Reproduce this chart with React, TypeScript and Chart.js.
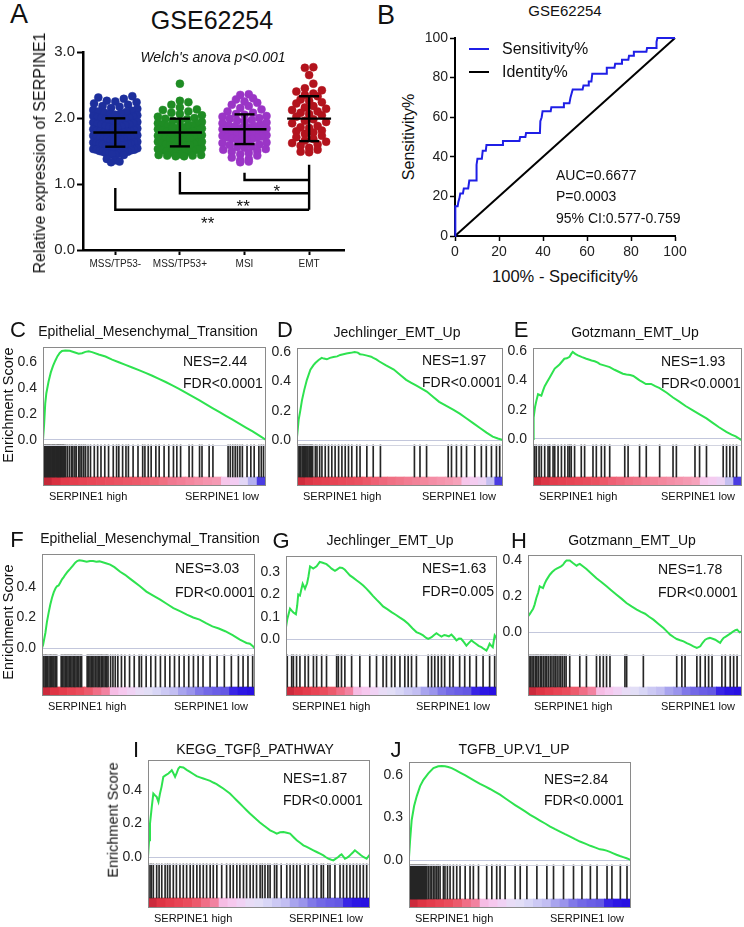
import React, { useEffect, useRef } from 'react';
import { Chart, registerables } from 'chart.js';

Chart.register(...registerables);

const FONT = '"Liberation Sans", Arial, Helvetica, sans-serif';
Chart.defaults.font.family = FONT;
Chart.defaults.color = '#222';

// ================= Panel A data =================
const GROUPS = ['MSS/TP53-', 'MSS/TP53+', 'MSI', 'EMT'];
const GROUP_COLORS = ['#1d2f9d', '#1f8c24', '#9a35c6', '#b3131d'];
const MSS_TP53_NEG = [2.33,2.31,2.29,2.26,2.25,2.24,2.22,2.2,2.18,2.17,2.15,2.14,2.12,2.11,2.1,2.09,2.08,2.07,2.06,2.05,2.04,2.03,2.02,2.01,2.0,2.0,1.99,1.98,1.97,1.96,1.95,1.95,1.94,1.93,1.92,1.91,1.9,1.9,1.89,1.88,1.87,1.86,1.85,1.85,1.84,1.83,1.82,1.81,1.8,1.8,1.79,1.78,1.78,1.77,1.76,1.76,1.75,1.75,1.74,1.73,1.72,1.72,1.71,1.7,1.7,1.69,1.68,1.68,1.67,1.66,1.65,1.65,1.64,1.63,1.63,1.62,1.61,1.61,1.6,1.6,1.59,1.58,1.58,1.57,1.56,1.55,1.55,1.54,1.53,1.52,1.52,1.51,1.5,1.49,1.49,1.48,1.47,1.47,1.46,1.46,1.45,1.45,1.44,1.38,1.36,1.34,1.33];
const MSS_TP53_POS = [2.52,2.26,2.24,2.2,2.16,2.13,2.12,2.1,2.08,2.06,2.04,2.02,2.0,1.99,1.98,1.96,1.95,1.94,1.92,1.91,1.9,1.89,1.88,1.87,1.86,1.85,1.84,1.83,1.82,1.81,1.8,1.79,1.78,1.77,1.76,1.75,1.74,1.73,1.72,1.71,1.7,1.69,1.68,1.67,1.66,1.65,1.64,1.63,1.62,1.61,1.6,1.59,1.58,1.57,1.56,1.55,1.54,1.53,1.52,1.51,1.5,1.5,1.49,1.48,1.47,1.46,1.45,1.44,1.44,1.43,1.43,1.42,1.42,1.77,1.73,1.69,1.64,1.59,1.86];
const MSI_VALS = [2.36,2.35,2.3,2.28,2.25,2.23,2.2,2.18,2.15,2.13,2.1,2.08,2.06,2.05,2.03,2.02,2.0,1.99,1.97,1.96,1.95,1.93,1.92,1.9,1.89,1.88,1.87,1.86,1.85,1.84,1.83,1.82,1.81,1.8,1.79,1.78,1.77,1.76,1.75,1.74,1.73,1.72,1.71,1.7,1.69,1.68,1.67,1.66,1.65,1.63,1.62,1.6,1.59,1.57,1.56,1.55,1.53,1.52,1.5,1.49,1.47,1.45,1.43,1.4,1.38,1.36,1.34,1.33];
const EMT_VALS = [2.77,2.76,2.65,2.52,2.45,2.42,2.4,2.37,2.35,2.33,2.28,2.26,2.24,2.22,2.18,2.16,2.14,2.12,2.1,2.08,2.06,2.04,2.02,1.98,1.96,1.94,1.92,1.88,1.86,1.85,1.81,1.8,1.78,1.76,1.73,1.71,1.68,1.66,1.64,1.62,1.6,1.58,1.55,1.52,1.49,1.48];
const GROUP_MEANS = [1.78, 1.78, 1.83, 1.99];
const GROUP_SD = [0.215, 0.21, 0.225, 0.34];
const A_Y_TICKS = [0, 1, 2, 3];
const SIG_FROM = [2, 1, 0];
const SIG_TO = 3;
const SIG_FROM_TOP = [1.17, 1.18, 0.94];
const SIG_BAR = [1.06, 0.86, 0.61];
const SIG_TO_TOP = 1.29;
const SIG_LABELS = ['*', '**', '**'];
const SIG_LABEL_X = [2.5, 1.98, 1.43];
const SIG_LABEL_Y = [0.955, 0.73, 0.47];

// ================= Panel B data =================
const ROC_FPR = [0,0,0.3,1.2,1.5,2,2.4,3.6,4,6,6.5,9.7,9.8,10.2,12.2,12.6,14,14.3,21.5,21.8,29.3,29.6,32,32.3,38.6,38.8,39.4,39.8,43.5,43.8,49.2,49.5,52,52.5,53,53.5,58,58.4,60.5,60.8,62,62.4,68.7,69,72.5,72.8,75.6,75.9,78.8,79.1,81,81.3,87,87.3,91.4,91.6,92,100];
const ROC_TPR = [0,8,15,15,17,19,21.5,21.5,24,24,28,28,36,39,39,43,43,46,46,48,48,50,50,52,52,58,60,63,63,65,65,67,67,70,72,74,74,76,76,78,78,82,82,85,85,87,87,89,89,91,91,93,93,95,95,98,100,100];
const IDENTITY = [0, 100];
const B_TICKS = [0, 20, 40, 60, 80, 100];

// ================= GSEA data (x = % of ranked list) =================
const ES_C = [[0,0],[0.5,0.12],[1,0.28],[1.5,0.36],[2.5,0.45],[3.5,0.52],[4.5,0.57],[5.5,0.61],[6.5,0.645],[7.5,0.67],[8.5,0.685],[10,0.688],[12,0.686],[14,0.675],[16,0.664],[17.5,0.668],[19,0.678],[20.5,0.682],[22,0.676],[25,0.658],[28,0.642],[31,0.618],[34,0.598],[37,0.578],[40,0.558],[43,0.538],[46,0.516],[49,0.494],[52,0.47],[55,0.446],[58,0.42],[61,0.394],[64,0.365],[67,0.336],[70,0.306],[73,0.276],[76,0.246],[79,0.216],[82,0.186],[85,0.156],[88,0.126],[91,0.096],[94,0.066],[97,0.034],[100,0]];
const ES_D = [[0,0.02],[0.8,0.137],[1.6,0.2],[2.4,0.27],[3.5,0.34],[4.8,0.41],[6.5,0.48],[8,0.51],[8.9,0.525],[10.5,0.545],[12,0.56],[13,0.555],[14.5,0.55],[16,0.56],[17.7,0.566],[19.5,0.57],[21,0.58],[22.5,0.585],[24,0.59],[26,0.594],[28,0.6],[29.5,0.596],[30.6,0.585],[32,0.582],[34,0.575],[36,0.568],[37,0.56],[38.5,0.55],[40,0.535],[43,0.51],[47,0.48],[50,0.445],[53,0.41],[55.5,0.39],[58,0.37],[60.5,0.35],[63,0.33],[66,0.295],[69,0.26],[72.5,0.232],[76,0.205],[79,0.18],[82,0.15],[85.5,0.115],[89,0.08],[92,0.05],[95,0.023],[97.5,0.01],[100,0]];
const ES_E = [[0,0],[0.3,0.145],[1,0.22],[1.6,0.26],[2.4,0.305],[3.2,0.3],[4,0.295],[4.8,0.33],[5.6,0.36],[6.8,0.39],[8,0.42],[9.2,0.45],[10.4,0.48],[11.6,0.495],[12.8,0.51],[14,0.53],[15,0.547],[16.2,0.55],[17.5,0.56],[18.3,0.58],[19,0.593],[20.2,0.58],[21.5,0.57],[23.5,0.558],[25.5,0.547],[27,0.54],[28,0.535],[29.5,0.53],[31,0.52],[32,0.51],[34.4,0.5],[36.7,0.49],[39,0.472],[41.5,0.455],[43,0.445],[44.7,0.44],[46.5,0.436],[48,0.43],[49.5,0.415],[51,0.4],[52.5,0.388],[54,0.375],[56.5,0.375],[58.5,0.36],[60.6,0.347],[64,0.315],[67,0.283],[70,0.255],[73,0.225],[76.5,0.195],[79.7,0.168],[83,0.14],[86,0.11],[89,0.08],[92.5,0.048],[95,0.03],[97,0.018],[100,-0.01]];
const ES_F = [[0,0],[0.5,0.02],[1.6,0.1],[2.3,0.17],[3.1,0.23],[3.9,0.285],[4.7,0.33],[5.5,0.365],[6.3,0.39],[7,0.405],[7.8,0.41],[8.6,0.43],[9.4,0.45],[10.2,0.465],[10.9,0.48],[12,0.5],[13.3,0.52],[14.5,0.54],[15.6,0.56],[16.5,0.57],[17.5,0.575],[19,0.572],[21,0.565],[22.5,0.57],[24,0.57],[25.5,0.566],[27,0.568],[28.5,0.562],[30,0.556],[32,0.547],[34,0.53],[36.7,0.5],[39,0.48],[41,0.458],[43,0.437],[46,0.405],[49,0.37],[52,0.345],[55.5,0.317],[58.5,0.29],[61.7,0.262],[65,0.24],[68,0.219],[71,0.2],[74,0.186],[77,0.163],[80,0.142],[83,0.128],[86,0.11],[89.5,0.085],[92.9,0.055],[95,0.04],[96,0.033],[97.6,0.028],[99,0.012],[100,-0.006]];
const ES_G = [[0,0.055],[0.6,0.09],[1.9,0.137],[2.7,0.128],[3.5,0.12],[4.7,0.112],[5.3,0.15],[5.8,0.2],[6.6,0.195],[7.2,0.22],[7.9,0.248],[9,0.226],[10,0.25],[10.6,0.278],[11.4,0.325],[12.2,0.32],[12.9,0.315],[14.5,0.325],[16,0.345],[17,0.342],[17.7,0.34],[19.2,0.335],[20.5,0.325],[21.6,0.315],[23.2,0.305],[24.3,0.312],[25.5,0.32],[26.7,0.318],[27.9,0.31],[29,0.298],[30.3,0.285],[31.8,0.275],[33.4,0.263],[35,0.252],[36.6,0.24],[38.1,0.226],[39.7,0.21],[41.3,0.193],[42.9,0.177],[44.5,0.162],[46,0.147],[48,0.135],[50,0.122],[52,0.11],[54,0.097],[56,0.085],[57.9,0.07],[59.9,0.05],[61.8,0.033],[63.5,0.026],[65,0.018],[66.3,0.008],[67.4,0.003],[69,0.01],[70.2,0.02],[71.3,0.028],[72.5,0.02],[73.7,0.013],[75,0.02],[76,0.018],[77.2,0.014],[78.4,0.022],[79.6,0.01],[80.8,-0.004],[82,0.004],[83,0.003],[84.3,-0.012],[85.5,-0.027],[86.7,-0.015],[87.9,-0.004],[89,-0.012],[90,-0.019],[91.3,-0.028],[92.6,-0.034],[93.8,-0.042],[95,-0.049],[95.8,-0.035],[96.5,-0.019],[97.3,-0.028],[98,-0.034],[98.9,0.018],[100,0.003]];
const ES_H = [[0,0.087],[0.8,0.1],[1.6,0.115],[2.4,0.13],[3.1,0.153],[3.9,0.19],[4.7,0.218],[5.5,0.255],[6.2,0.25],[7,0.245],[7.8,0.27],[8.6,0.29],[9.4,0.305],[10.2,0.32],[11.3,0.335],[12.5,0.348],[13.6,0.355],[14.8,0.363],[15.6,0.368],[16.4,0.376],[17.2,0.39],[18,0.4],[19.5,0.4],[21,0.385],[22.7,0.37],[23.4,0.376],[24.2,0.38],[25.8,0.366],[27.3,0.352],[29.7,0.326],[32,0.3],[34.4,0.278],[36.7,0.255],[39,0.232],[41.4,0.208],[43.8,0.185],[46,0.162],[48.4,0.143],[50.8,0.125],[52.8,0.112],[54.7,0.102],[56.6,0.085],[58.6,0.069],[61,0.045],[63.3,0.022],[65,0.002],[66.4,-0.015],[68,-0.028],[69.5,-0.039],[71.1,-0.046],[72.7,-0.052],[74.2,-0.062],[75.8,-0.071],[77.3,-0.08],[78.9,-0.089],[79.7,-0.085],[80.5,-0.08],[81.6,-0.06],[82.8,-0.043],[84,-0.036],[85,-0.033],[86.3,-0.038],[87.5,-0.043],[88.7,-0.052],[89.8,-0.061],[90.6,-0.045],[91.4,-0.033],[92.6,-0.024],[93.8,-0.015],[95,-0.005],[96,0.004],[96.9,0.01],[97.7,0.013],[98.9,-0.002],[100,0.004]];
const ES_I = [[0,0],[0.5,0.1],[0.9,0.2],[1.7,0.3],[2.4,0.38],[3.1,0.37],[3.9,0.36],[4.7,0.33],[5.4,0.38],[6.1,0.42],[6.9,0.48],[8,0.49],[9.2,0.5],[10,0.51],[10.7,0.52],[11.5,0.5],[12.2,0.48],[13,0.505],[13.7,0.53],[14.4,0.54],[15.2,0.538],[15.9,0.536],[17.4,0.522],[18.9,0.51],[20.4,0.497],[21.9,0.484],[23.4,0.477],[24.9,0.47],[26.4,0.463],[28,0.456],[29.4,0.446],[30.9,0.436],[32.4,0.423],[33.9,0.41],[35.4,0.395],[36.9,0.38],[38.4,0.36],[39.9,0.34],[41.4,0.32],[42.9,0.3],[44.4,0.28],[45.9,0.26],[47.4,0.242],[48.9,0.224],[50.4,0.207],[52,0.19],[53.5,0.175],[55,0.16],[56.5,0.15],[58,0.14],[59.5,0.148],[61,0.15],[62.5,0.145],[64,0.14],[65.5,0.12],[67,0.1],[68.5,0.085],[70,0.07],[71.5,0.06],[73,0.05],[74.5,0.04],[76,0.03],[77.5,0.02],[79,0.01],[80,0],[81.2,-0.01],[82.3,-0.015],[83.5,-0.02],[84.6,-0.01],[85.7,0],[86.5,0.01],[87.2,0.016],[88,0.003],[88.7,-0.01],[89.5,-0.005],[90.2,0],[91,0.01],[91.7,0.02],[92.5,0.03],[93.2,0.04],[94,0.032],[94.7,0.024],[95.8,0.012],[97,0],[97.8,-0.005],[98.5,-0.01],[99.2,0.003],[100,0.016]];
const ES_J = [[0,0.02],[0.5,0.14],[1.2,0.28],[2.3,0.38],[3.5,0.45],[5,0.52],[6.5,0.565],[8.7,0.61],[11,0.647],[13.2,0.66],[14.7,0.662],[16.2,0.66],[17.7,0.655],[19.2,0.647],[21,0.633],[23,0.616],[25.2,0.597],[27.5,0.576],[29.8,0.556],[32,0.536],[34.3,0.518],[36.5,0.5],[38.8,0.48],[41,0.46],[43.3,0.435],[45.6,0.41],[47.8,0.387],[50,0.365],[52.3,0.342],[54.6,0.318],[56.8,0.298],[59,0.278],[61.3,0.257],[63.6,0.235],[65.8,0.217],[68,0.2],[70.3,0.182],[72.6,0.165],[74.8,0.147],[77,0.13],[79.4,0.115],[81.7,0.1],[84,0.087],[86,0.075],[87.5,0.072],[89,0.066],[90.5,0.057],[92,0.047],[93.5,0.037],[95,0.028],[96.5,0.02],[98,0.012],[99,0.006],[100,0]];

const HITS_C = [0.3,0.7,1.1,1.4,1.8,2.1,2.5,2.9,3.2,3.6,4.0,4.3,4.7,5.1,5.4,5.8,6.2,6.6,6.9,7.3,7.7,8.0,8.4,8.8,9.2,9.6,10.2,11,11.9,12.8,13.4,14.3,14.9,16,16.6,17.4,18.3,19.1,20.2,21.3,23,24.5,26,27.7,29.4,31.5,33,34,35.7,37.2,38.3,40.4,42.6,44.7,45.7,47.2,48.5,50.6,52.1,54.3,56.4,58.5,60,61.7,65.5,67,70.2,71.3,74.5,76.2,83,84,85.1,86.2,87.2,88.3,89.4,91.5,93.2,94.7,96.8,97.9,98.9];
const HITS_D = [0.5,1.2,1.8,2.5,3.1,3.6,4.2,4.8,5.3,5.9,6.5,7.0,7.6,8.9,9.7,11,12.1,13.7,15.3,16.9,18.5,20.2,21.8,23.4,25,26.6,29,30.6,33.9,37,40.5,57,59.7,62.9,73.4,75,77.4,79.8,82.3,86.3,89.5,91.9,94.4,96.8,98.4];
const HITS_E = [0.8,1.6,2.9,4,5.6,7.2,8,9.6,10.4,12,13.6,15.2,16.7,17.5,18.3,19.9,23.1,24.7,28.7,30.3,32.7,34.3,36.7,43.9,45.5,51,54.2,60.6,67,68.6,77.5,79.7,83,91,92.6,94.2,95.8,97.4];
const HITS_F = [0.4,0.9,1.5,2.0,2.6,3.3,3.9,4.4,5.1,5.6,6.2,6.9,9.0,9.6,10.3,10.9,11.6,12.2,12.8,13.5,14.1,14.8,15.4,16.0,16.7,17.3,18.0,18.6,21.2,21.8,22.5,23.1,23.8,24.4,25.1,25.8,26.4,27.1,27.8,28.4,29.1,29.8,30.4,31.0,32.2,33.3,34.4,35.6,37.3,38.9,41.1,43.3,45.6,46.7,48.9,51.1,53.3,55.6,57.8,60,62.2,64.4,66.7,68.9,71.1,73.3,75.6,78.9,82.2,85.6,88.9,92.2,94.4,96.7,98.9];
const HITS_G = [0.6,2.7,3.5,5.0,6.6,9.0,10.6,13.0,14.5,16.9,19.2,24.0,24.8,26.3,27.9,31.1,35.0,39.7,42.9,46.0,47.6,50.0,51.6,54.0,56.3,57.9,59.5,61.8,67.4,69.0,70.5,72.1,73.7,75.2,77.6,79.2,82.3,84.7,87.1,90.2,93.4,96.5,98.9];
const HITS_H = [0.5,1.2,1.9,2.6,3.4,4.1,4.8,5.7,6.4,7.2,8.0,8.7,9.5,10.4,11.2,12.1,12.8,13.6,14.5,15.3,16.1,17.0,17.8,19.5,24.2,27.3,32,33.6,35.2,36.7,38.3,45.3,46.1,53.9,69.5,71.9,73.4,78.9,80.5,82.8,84.4,86,90.6,92.2,94.5,96.1,97.7];
const HITS_I = [0.9,1.5,2.4,3.9,5.0,6.2,7.7,8.8,9.9,11.4,12.8,14.4,15.9,17.4,19,20.4,22,23.4,24.9,26.4,28,29.4,31,33.2,35.4,37,38.4,40,41.4,43,44.4,46,47.4,48.9,50.5,51.5,52.7,54,55,57,58,60,62.5,64,65.5,67,68.5,70.7,72.2,74.5,76,78,79,81,82,84.2,86.5,88,89.5,91,92.5,94,95.5,97,98.5];
const HITS_J = [0.3,0.8,1.2,1.7,2.1,2.6,3.0,3.5,3.9,4.4,4.8,5.3,5.7,6.2,6.6,7.1,7.5,8.0,8.7,9.5,10.2,11,11.7,12.5,13.2,14,15.5,16.2,17.3,18.5,20,21.5,23,25.3,27.5,29,31.3,35,37.3,39.5,41,43.3,47.8,50.1,53.1,57.6,62.1,65.1,69.6,74.1,77.9,81.7,84.7,89.2,91.4,95.2,98.2];

// ranked-list metric heat strip (left = SERPINE1 high, right = low)
const GRAD_C = ['#c42838','#d83040','#e23a4a','#e43e4e','#e64252','#e84656','#e84a5a','#ea4e5e','#ea5262','#ec5666','#ec5a6a','#ee5e70','#ee6878','#f07082','#f07890','#f27e96','#f4869e','#f48ea6','#f594ae','#f59ab4','#f6c6ea','#f3ccf2','#e2d6f6','#b4b0f0','#4a3ce2'];
const GRAD_D = ['#d02c3c','#dc3646','#e23c4c','#e44050','#e64454','#e84858','#e84c5c','#ea5060','#ec5868','#ee6074','#ee687c','#f07084','#f0768a','#f27c92','#f28298','#f4889e','#f48ea6','#f594ac','#f59ab2','#f6a2ba','#f6c6ea','#f4ccf0','#ecd2f4','#c4bff0','#4a3ce2'];
const GRAD_F = ['#cc2a3c','#de3444','#e43c4c','#e84454','#ea4c5c','#ec5a6c','#f06e86','#f282a0','#f6bce4','#f6c8ee','#f0d2f4','#e8dcf6','#e2def6','#d8d6f6','#ccc9f4','#c2bef2','#a8a4ee','#9a94ec','#8078e8','#7268e6','#6a5ee6','#6458e4','#3824e6','#2c16e4','#2810e2'];

const GSEA_LETTERS = ['C','D','E','F','G','H','I','J'];
const GSEA_TITLES = ['Epithelial_Mesenchymal_Transition','Jechlinger_EMT_Up','Gotzmann_EMT_Up','Epithelial_Mesenchymal_Transition','Jechlinger_EMT_Up','Gotzmann_EMT_Up','KEGG_TGFβ_PATHWAY','TGFB_UP.V1_UP'];
const GSEA_NES = ['NES=2.44','NES=1.97','NES=1.93','NES=3.03','NES=1.63','NES=1.78','NES=1.87','NES=2.84'];
const GSEA_FDR = ['FDR<0.0001','FDR<0.0001','FDR<0.0001','FDR<0.0001','FDR=0.005','FDR<0.0001','FDR<0.0001','FDR<0.0001'];
const GSEA_TICKS = [[0,0.2,0.4,0.6],[0,0.2,0.4,0.6],[0,0.2,0.4,0.6],[0,0.2,0.4],[0,0.1,0.2,0.3],[0,0.2,0.4],[0,0.2,0.4],[0,0.3,0.6]];
const GSEA_ES = [ES_C, ES_D, ES_E, ES_F, ES_G, ES_H, ES_I, ES_J];
const GSEA_HITS = [HITS_C, HITS_D, HITS_E, HITS_F, HITS_G, HITS_H, HITS_I, HITS_J];
const GSEA_GRAD = [GRAD_C, GRAD_D, GRAD_D, GRAD_F, GRAD_F, GRAD_F, GRAD_F, GRAD_F];

// ================= Layout (pixels) =================
const GSEA_GEO = [
  { left: 43, right: 266, top: 347, zero: 440, sep: 445, hitBot: 477, bottom: 486, unit: 130 },
  { left: 297, right: 503, top: 348, zero: 440, sep: 445, hitBot: 477, bottom: 486, unit: 146.7 },
  { left: 533, right: 742, top: 348, zero: 439, sep: 445, hitBot: 477, bottom: 486, unit: 146.7 },
  { left: 42, right: 255, top: 554, zero: 648, sep: 655, hitBot: 687, bottom: 696, unit: 152.5 },
  { left: 286, right: 497, top: 556, zero: 639.5, sep: 655, hitBot: 687, bottom: 696, unit: 225 },
  { left: 528, right: 742, top: 555, zero: 632, sep: 655, hitBot: 687, bottom: 696, unit: 179 },
  { left: 148, right: 370, top: 760, zero: 857, sep: 864, hitBot: 898, bottom: 908, unit: 167 },
  { left: 409, right: 631, top: 762, zero: 860, sep: 865, hitBot: 899, bottom: 908, unit: 142 },
];
const GSEA_TXT = [
  { letter: [18, 330], title: [148, 331], nes: [183, 361], fdr: [183, 383] },
  { letter: [285, 330], title: [397, 332], nes: [422, 360], fdr: [422, 382] },
  { letter: [521, 330], title: [635, 332], nes: [661, 361], fdr: [661, 383] },
  { letter: [17, 540], title: [150, 538], nes: [175, 568], fdr: [175, 592] },
  { letter: [281, 541], title: [390, 540], nes: [422, 568], fdr: [422, 591] },
  { letter: [519, 541], title: [632, 540], nes: [658, 569], fdr: [658, 592] },
  { letter: [136, 750], title: [255, 749], nes: [283, 778], fdr: [283, 800] },
  { letter: [396, 750], title: [514, 749], nes: [544, 779], fdr: [544, 800] },
];
const ES_LABEL_POS = [[8, 405], [8, 622], [113, 820]];

type Frame = { left: number; top: number; width: number; height: number };

function ChartBox({ frame, make }: { frame: Frame; make: () => any }) {
  const ref = useRef<HTMLCanvasElement | null>(null);
  useEffect(() => {
    const chart = new Chart(ref.current as HTMLCanvasElement, make());
    return () => chart.destroy();
  }, []);
  return (
    <canvas
      ref={ref}
      width={frame.width}
      height={frame.height}
      style={{ position: 'absolute', left: frame.left, top: frame.top, width: frame.width, height: frame.height }}
    />
  );
}

function T({ x, y, s, a = 'm', r = false, it = false, c = '#111', children }: any) {
  const tx = a === 's' ? '0' : a === 'e' ? '-100%' : '-50%';
  return (
    <div
      style={{
        position: 'absolute', left: x, top: y,
        transform: `translate(${tx},-50%)${r ? ' rotate(-90deg)' : ''}`,
        fontSize: s, lineHeight: 1, whiteSpace: 'nowrap', fontStyle: it ? 'italic' : 'normal',
        color: c, fontFamily: FONT,
      }}
    >
      {children}
    </div>
  );
}

// ---------- Panel A ----------
const A_AREA = { left: 83, top: 52, right: 344, bottom: 250 };
const A_XMIN = -0.5;
const A_XMAX = 3.54;

function swarmOffsets(values: number[], rowH: number, stepPx: number, maxHalfPx: number, catPx: number) {
  const rows = new Map<number, number[]>();
  values.forEach((v, i) => {
    const k = Math.round(v / rowH + 1e-9);
    if (!rows.has(k)) rows.set(k, []);
    (rows.get(k) as number[]).push(i);
  });
  const off = new Array(values.length).fill(0);
  rows.forEach((idx) => {
    const n = idx.length;
    const step = n > 1 ? Math.min(stepPx, (2 * maxHalfPx) / (n - 1)) : 0;
    const slots: number[] = [];
    for (let j = 0; j < n; j++) slots.push((j - (n - 1) / 2) * step);
    slots.sort((p, q) => Math.abs(p) - Math.abs(q) || p - q);
    const order = idx.slice().sort((p, q) => values[p] - values[q]);
    order.forEach((vi, j) => { off[vi] = slots[j] / catPx; });
  });
  return off;
}

function makeA() {
  const AXW = 45, AXH = 30;
  const catPx = (A_AREA.right - A_AREA.left) / (A_XMAX - A_XMIN);
  const all = [MSS_TP53_NEG, MSS_TP53_POS, MSI_VALS, EMT_VALS];
  const datasets: any[] = [];
  const seg = (pts: number[][]) => ({
    type: 'line', data: pts.map(([x, y]) => ({ x, y })), borderColor: '#000', borderWidth: 2.4,
    pointRadius: 0, fill: false, order: 0, clip: false,
  });
  GROUP_MEANS.forEach((m, g) => {
    const sd = GROUP_SD[g];
    datasets.push(seg([[g - 0.34, m], [g + 0.34, m]]));
    datasets.push(seg([[g, m - sd], [g, m + sd]]));
    datasets.push(seg([[g - 0.155, m + sd], [g + 0.155, m + sd]]));
    datasets.push(seg([[g - 0.155, m - sd], [g + 0.155, m - sd]]));
  });
  SIG_FROM.forEach((f, i) => {
    datasets.push(seg([[f, SIG_FROM_TOP[i]], [f, SIG_BAR[i]], [SIG_TO, SIG_BAR[i]]]));
  });
  datasets.push(seg([[SIG_TO, SIG_TO_TOP], [SIG_TO, Math.min(...SIG_BAR)]]));
  all.forEach((vals, g) => {
    const off = swarmOffsets(vals, 0.1, 8.5, 22, catPx);
    datasets.push({
      type: 'scatter',
      data: vals.map((v, i) => ({ x: g + off[i], y: v })),
      pointRadius: 4, pointHoverRadius: 4,
      pointBackgroundColor: GROUP_COLORS[g], pointBorderColor: GROUP_COLORS[g], pointBorderWidth: 0.5,
      order: 1,
    });
  });
  const stars = {
    id: 'stars',
    afterDatasetsDraw(chart: any) {
      const { ctx, scales } = chart;
      ctx.save();
      ctx.fillStyle = '#111';
      ctx.font = `17px ${FONT}`;
      ctx.textAlign = 'center';
      ctx.textBaseline = 'alphabetic';
      SIG_LABELS.forEach((t, i) => {
        ctx.fillText(t, scales.x.getPixelForValue(SIG_LABEL_X[i]), scales.y.getPixelForValue(SIG_LABEL_Y[i]) + 0.575 * 17);
      });
      ctx.restore();
    },
  };
  const padT = 16, padR = 20, padB = 4;
  const frame = {
    left: A_AREA.left - AXW, top: A_AREA.top - padT,
    width: A_AREA.right - A_AREA.left + AXW + padR,
    height: A_AREA.bottom - A_AREA.top + padT + AXH + padB,
  };
  const make = () => ({
    type: 'line',
    data: { datasets },
    options: {
      responsive: false, animation: false, events: [], devicePixelRatio: 1,
      layout: { padding: { left: 0, top: padT, right: padR, bottom: padB } },
      plugins: { legend: { display: false }, tooltip: { enabled: false } },
      scales: {
        x: {
          type: 'linear', min: A_XMIN, max: A_XMAX, position: 'bottom',
          afterFit: (s: any) => { s.height = AXH; },
          afterBuildTicks: (s: any) => { s.ticks = GROUPS.map((_, i) => ({ value: i })); },
          ticks: { autoSkip: false, maxRotation: 0, padding: 3, font: { size: 10 }, color: '#222', callback: (v: any) => GROUPS[Math.round(v)] },
          grid: { drawOnChartArea: false, drawTicks: true, tickLength: 5, tickWidth: 2, tickColor: '#000' },
          border: { display: true, width: 2.5, color: '#000' },
        },
        y: {
          type: 'linear', min: 0, max: 3, position: 'left',
          afterFit: (s: any) => { s.width = AXW; },
          afterBuildTicks: (s: any) => { s.ticks = A_Y_TICKS.map((v) => ({ value: v })); },
          ticks: { padding: 2, font: { size: 15 }, color: '#222', callback: (v: any) => Number(v).toFixed(1) },
          grid: { drawOnChartArea: false, drawTicks: true, tickLength: 6, tickWidth: 2, tickColor: '#000' },
          border: { display: true, width: 2.5, color: '#000' },
        },
      },
    },
    plugins: [stars],
  });
  return { frame, make };
}

// ---------- Panel B ----------
const B_AREA = { left: 455, top: 38, right: 675, bottom: 236 };
function makeB() {
  const AXW = 36, AXH = 24, padT = 16, padR = 24, padB = 4;
  const frame = {
    left: B_AREA.left - AXW, top: B_AREA.top - padT,
    width: B_AREA.right - B_AREA.left + AXW + padR,
    height: B_AREA.bottom - B_AREA.top + padT + AXH + padB,
  };
  const make = () => ({
    type: 'line',
    data: {
      datasets: [
        { type: 'line', data: ROC_FPR.map((x, i) => ({ x, y: ROC_TPR[i] })), borderColor: '#1f1fe6', borderWidth: 2, pointRadius: 0, order: 0, clip: 4 },
        { type: 'line', data: IDENTITY.map((v) => ({ x: v, y: v })), borderColor: '#000', borderWidth: 2, pointRadius: 0, order: 1, clip: 4 },
      ],
    },
    options: {
      responsive: false, animation: false, events: [], devicePixelRatio: 1,
      layout: { padding: { left: 0, top: padT, right: padR, bottom: padB } },
      plugins: { legend: { display: false }, tooltip: { enabled: false } },
      scales: {
        x: {
          type: 'linear', min: 0, max: 100, position: 'bottom',
          afterFit: (s: any) => { s.height = AXH; },
          afterBuildTicks: (s: any) => { s.ticks = B_TICKS.map((v) => ({ value: v })); },
          ticks: { autoSkip: false, maxRotation: 0, padding: 3, font: { size: 14 }, color: '#222' },
          grid: { drawOnChartArea: false, drawTicks: true, tickLength: 5, tickWidth: 1.5, tickColor: '#000' },
          border: { display: true, width: 2, color: '#000' },
        },
        y: {
          type: 'linear', min: 0, max: 100, position: 'left',
          afterFit: (s: any) => { s.width = AXW; },
          afterBuildTicks: (s: any) => { s.ticks = B_TICKS.map((v) => ({ value: v })); },
          ticks: { padding: 2, font: { size: 14 }, color: '#222' },
          grid: { drawOnChartArea: false, drawTicks: true, tickLength: 5, tickWidth: 1.5, tickColor: '#000' },
          border: { display: true, width: 2, color: '#000' },
        },
      },
    },
  });
  return { frame, make };
}

// ---------- GSEA panels ----------
const gseaFrame = {
  id: 'gseaFrame',
  afterDatasetsDraw(chart: any, _a: any, opts: any) {
    const { ctx, chartArea: a, scales } = chart;
    const ys = Math.round(scales.y.getPixelForValue(opts.sep)) + 0.5;
    ctx.save();
    ctx.lineWidth = 1;
    ctx.strokeStyle = '#d2d4e0';
    ctx.beginPath(); ctx.moveTo(a.left, ys); ctx.lineTo(a.right, ys); ctx.stroke();
    ctx.strokeStyle = '#8a8a8a';
    ctx.strokeRect(Math.round(a.left) + 0.5, Math.round(a.top) + 0.5, Math.round(a.right - a.left) - 1, Math.round(a.bottom - a.top) - 1);
    ctx.restore();
  },
};

function makeGsea(i: number) {
  const g = GSEA_GEO[i];
  const AXW = 44, PAD = 18;
  const yMax = (g.zero - g.top) / g.unit;
  const yMin = -(g.bottom - g.zero) / g.unit;
  const sepV = -(g.sep - g.zero) / g.unit;
  const gTop = -(g.hitBot - g.zero) / g.unit;
  const grad = GSEA_GRAD[i];
  const ticks = GSEA_TICKS[i];
  const frame = { left: g.left - AXW, top: g.top - PAD, width: g.right - g.left + AXW + PAD, height: g.bottom - g.top + 2 * PAD };
  const make = () => ({
    type: 'line',
    data: {
      datasets: [
        { type: 'line', data: GSEA_ES[i].map(([x, y]) => ({ x, y })), borderColor: '#2ee24f', borderWidth: 2, pointRadius: 0, xAxisID: 'x', yAxisID: 'y', order: 0, tension: 0 },
        { type: 'bar', data: GSEA_HITS[i].map((h) => ({ x: h, y: [gTop, sepV] })), backgroundColor: '#262626', barThickness: 1, grouped: false, xAxisID: 'x', yAxisID: 'y', order: 1 },
        { type: 'bar', data: grad.map(() => [yMin, gTop]), backgroundColor: grad, categoryPercentage: 1, barPercentage: 1, grouped: false, xAxisID: 'xg', yAxisID: 'y', order: 2 },
      ],
    },
    options: {
      responsive: false, animation: false, events: [], devicePixelRatio: 1,
      layout: { padding: { left: 0, top: PAD, right: PAD, bottom: PAD } },
      plugins: { legend: { display: false }, tooltip: { enabled: false }, gseaFrame: { sep: sepV } },
      scales: {
        x: { type: 'linear', min: 0, max: 100, display: false, offset: false },
        xg: { type: 'category', labels: grad.map((_, k) => String(k)), display: false, offset: true },
        y: {
          type: 'linear', min: yMin, max: yMax, position: 'left',
          afterFit: (s: any) => { s.width = AXW; },
          afterBuildTicks: (s: any) => { s.ticks = ticks.map((v) => ({ value: v })); },
          ticks: { padding: 6, font: { size: 14 }, color: '#222', callback: (v: any) => Number(v).toFixed(1) },
          grid: { drawTicks: false, lineWidth: 1, color: (c: any) => (c.tick && Math.abs(c.tick.value) < 1e-9 ? '#c3c7dc' : 'rgba(0,0,0,0)') },
          border: { display: false },
        },
      },
    },
    plugins: [gseaFrame],
  });
  return { frame, make };
}

export default function App() {
  const A = makeA();
  const B = makeB();
  const G = GSEA_GEO.map((_, i) => makeGsea(i));
  return (
    <div style={{ position: 'absolute', left: 0, top: 0, width: 744, height: 927, background: '#fff', overflow: 'hidden', fontFamily: FONT }}>
      {/* Panel A */}
      <ChartBox frame={A.frame} make={A.make} />
      <T x={19} y={14} s={27}>A</T>
      <T x={212} y={20} s={25}>GSE62254</T>
      <T x={213} y={57} s={14} it>Welch's anova p&lt;0.001</T>
      <T x={40} y={153} s={16} r>Relative expression of SERPINE1</T>

      {/* Panel B */}
      <ChartBox frame={B.frame} make={B.make} />
      <T x={386} y={15} s={27}>B</T>
      <T x={565} y={10} s={15}>GSE62254</T>
      <div style={{ position: 'absolute', left: 469, top: 48, width: 20, height: 2, background: '#1f1fe6' }} />
      <T x={502} y={49} s={16} a="s">Sensitivity%</T>
      <div style={{ position: 'absolute', left: 469, top: 71, width: 20, height: 2, background: '#000' }} />
      <T x={502} y={72} s={16} a="s">Identity%</T>
      <T x={556} y={175} s={14} a="s">AUC=0.6677</T>
      <T x={556} y={196} s={14} a="s">P=0.0003</T>
      <T x={556} y={218} s={14} a="s">95% CI:0.577-0.759</T>
      <T x={409} y={137} s={16} r>Sensitivity%</T>
      <T x={565} y={276} s={16.5}>100% - Specificity%</T>

      {/* GSEA panels */}
      {G.map((p, i) => <ChartBox key={i} frame={p.frame} make={p.make} />)}
      {GSEA_GEO.map((g, i) => {
        const t = GSEA_TXT[i];
        return (
          <React.Fragment key={'t' + i}>
            <T x={t.letter[0]} y={t.letter[1]} s={22}>{GSEA_LETTERS[i]}</T>
            <T x={t.title[0]} y={t.title[1]} s={14}>{GSEA_TITLES[i]}</T>
            <T x={t.nes[0]} y={t.nes[1]} s={14} a="s">{GSEA_NES[i]}</T>
            <T x={t.fdr[0]} y={t.fdr[1]} s={14} a="s">{GSEA_FDR[i]}</T>
            <T x={g.left + 6} y={g.bottom + 10} s={11} a="s">SERPINE1 high</T>
            <T x={g.right - 7} y={g.bottom + 10} s={11} a="e">SERPINE1 low</T>
          </React.Fragment>
        );
      })}
      {ES_LABEL_POS.map(([x, y], i) => <T key={'es' + i} x={x} y={y} s={14.5} r>Enrichment Score</T>)}
    </div>
  );
}
